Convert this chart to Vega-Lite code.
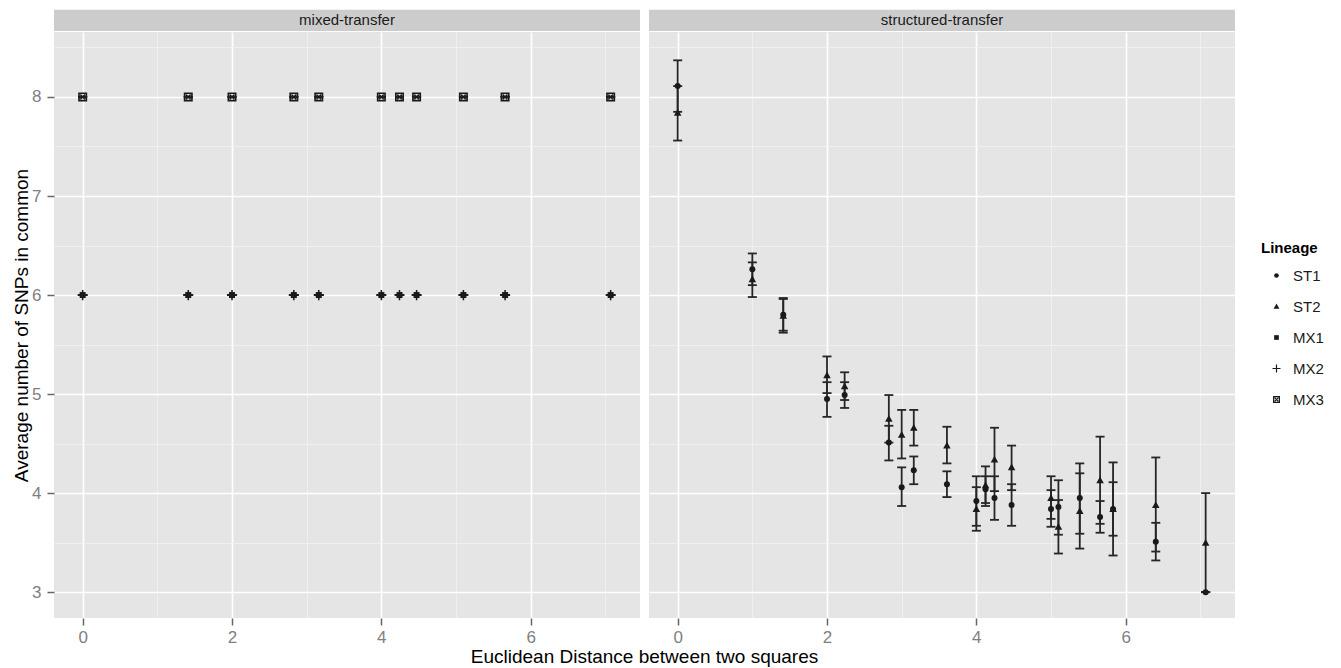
{
  "$schema": "https://vega.github.io/schema/vega-lite/v6.json",
  "autosize": {"type": "none"},
  "padding": {"left": 54, "top": 32, "right": 1287, "bottom": 636},
  "background": "white",
  "datasets": {
    "mixed": [
      {"distance": 0, "lineage": "MX1", "mean": 6, "lower": 6, "upper": 6},
      {"distance": 0, "lineage": "MX2", "mean": 6, "lower": 6, "upper": 6},
      {"distance": 0, "lineage": "MX3", "mean": 8, "lower": 8, "upper": 8},
      {"distance": 1.414, "lineage": "MX1", "mean": 6, "lower": 6, "upper": 6},
      {"distance": 1.414, "lineage": "MX2", "mean": 6, "lower": 6, "upper": 6},
      {"distance": 1.414, "lineage": "MX3", "mean": 8, "lower": 8, "upper": 8},
      {"distance": 2, "lineage": "MX1", "mean": 6, "lower": 6, "upper": 6},
      {"distance": 2, "lineage": "MX2", "mean": 6, "lower": 6, "upper": 6},
      {"distance": 2, "lineage": "MX3", "mean": 8, "lower": 8, "upper": 8},
      {"distance": 2.828, "lineage": "MX1", "mean": 6, "lower": 6, "upper": 6},
      {"distance": 2.828, "lineage": "MX2", "mean": 6, "lower": 6, "upper": 6},
      {"distance": 2.828, "lineage": "MX3", "mean": 8, "lower": 8, "upper": 8},
      {"distance": 3.162, "lineage": "MX1", "mean": 6, "lower": 6, "upper": 6},
      {"distance": 3.162, "lineage": "MX2", "mean": 6, "lower": 6, "upper": 6},
      {"distance": 3.162, "lineage": "MX3", "mean": 8, "lower": 8, "upper": 8},
      {"distance": 4, "lineage": "MX1", "mean": 6, "lower": 6, "upper": 6},
      {"distance": 4, "lineage": "MX2", "mean": 6, "lower": 6, "upper": 6},
      {"distance": 4, "lineage": "MX3", "mean": 8, "lower": 8, "upper": 8},
      {"distance": 4.243, "lineage": "MX1", "mean": 6, "lower": 6, "upper": 6},
      {"distance": 4.243, "lineage": "MX2", "mean": 6, "lower": 6, "upper": 6},
      {"distance": 4.243, "lineage": "MX3", "mean": 8, "lower": 8, "upper": 8},
      {"distance": 4.472, "lineage": "MX1", "mean": 6, "lower": 6, "upper": 6},
      {"distance": 4.472, "lineage": "MX2", "mean": 6, "lower": 6, "upper": 6},
      {"distance": 4.472, "lineage": "MX3", "mean": 8, "lower": 8, "upper": 8},
      {"distance": 5.099, "lineage": "MX1", "mean": 6, "lower": 6, "upper": 6},
      {"distance": 5.099, "lineage": "MX2", "mean": 6, "lower": 6, "upper": 6},
      {"distance": 5.099, "lineage": "MX3", "mean": 8, "lower": 8, "upper": 8},
      {"distance": 5.657, "lineage": "MX1", "mean": 6, "lower": 6, "upper": 6},
      {"distance": 5.657, "lineage": "MX2", "mean": 6, "lower": 6, "upper": 6},
      {"distance": 5.657, "lineage": "MX3", "mean": 8, "lower": 8, "upper": 8},
      {"distance": 7.071, "lineage": "MX1", "mean": 6, "lower": 6, "upper": 6},
      {"distance": 7.071, "lineage": "MX2", "mean": 6, "lower": 6, "upper": 6},
      {"distance": 7.071, "lineage": "MX3", "mean": 8, "lower": 8, "upper": 8}
    ],
    "structured": [
      {"distance": 0, "lineage": "ST1", "mean": 8.11, "lower": 7.85, "upper": 8.37},
      {"distance": 0, "lineage": "ST2", "mean": 7.84, "lower": 7.56, "upper": 8.11},
      {"distance": 1, "lineage": "ST1", "mean": 6.26, "lower": 6.10, "upper": 6.42},
      {"distance": 1, "lineage": "ST2", "mean": 6.16, "lower": 5.98, "upper": 6.33},
      {"distance": 1.414, "lineage": "ST1", "mean": 5.80, "lower": 5.64, "upper": 5.96},
      {"distance": 1.414, "lineage": "ST2", "mean": 5.79, "lower": 5.62, "upper": 5.97},
      {"distance": 2, "lineage": "ST1", "mean": 4.95, "lower": 4.77, "upper": 5.12},
      {"distance": 2, "lineage": "ST2", "mean": 5.19, "lower": 5.01, "upper": 5.38},
      {"distance": 2.236, "lineage": "ST1", "mean": 4.99, "lower": 4.86, "upper": 5.12},
      {"distance": 2.236, "lineage": "ST2", "mean": 5.08, "lower": 4.94, "upper": 5.22},
      {"distance": 2.828, "lineage": "ST1", "mean": 4.51, "lower": 4.33, "upper": 4.68},
      {"distance": 2.828, "lineage": "ST2", "mean": 4.75, "lower": 4.51, "upper": 4.99},
      {"distance": 3, "lineage": "ST1", "mean": 4.06, "lower": 3.87, "upper": 4.26},
      {"distance": 3, "lineage": "ST2", "mean": 4.59, "lower": 4.35, "upper": 4.84},
      {"distance": 3.162, "lineage": "ST1", "mean": 4.23, "lower": 4.09, "upper": 4.37},
      {"distance": 3.162, "lineage": "ST2", "mean": 4.66, "lower": 4.48, "upper": 4.84},
      {"distance": 3.606, "lineage": "ST1", "mean": 4.09, "lower": 3.96, "upper": 4.22},
      {"distance": 3.606, "lineage": "ST2", "mean": 4.48, "lower": 4.30, "upper": 4.67},
      {"distance": 4, "lineage": "ST1", "mean": 3.92, "lower": 3.67, "upper": 4.17},
      {"distance": 4, "lineage": "ST2", "mean": 3.84, "lower": 3.62, "upper": 4.06},
      {"distance": 4.123, "lineage": "ST1", "mean": 4.04, "lower": 3.90, "upper": 4.17},
      {"distance": 4.123, "lineage": "ST2", "mean": 4.08, "lower": 3.87, "upper": 4.27},
      {"distance": 4.243, "lineage": "ST1", "mean": 3.95, "lower": 3.73, "upper": 4.17},
      {"distance": 4.243, "lineage": "ST2", "mean": 4.34, "lower": 4.02, "upper": 4.66},
      {"distance": 4.472, "lineage": "ST1", "mean": 3.88, "lower": 3.67, "upper": 4.09},
      {"distance": 4.472, "lineage": "ST2", "mean": 4.26, "lower": 4.03, "upper": 4.48},
      {"distance": 5, "lineage": "ST1", "mean": 3.84, "lower": 3.66, "upper": 4.03},
      {"distance": 5, "lineage": "ST2", "mean": 3.95, "lower": 3.74, "upper": 4.17},
      {"distance": 5.099, "lineage": "ST1", "mean": 3.86, "lower": 3.58, "upper": 4.13},
      {"distance": 5.099, "lineage": "ST2", "mean": 3.66, "lower": 3.39, "upper": 3.93},
      {"distance": 5.385, "lineage": "ST1", "mean": 3.95, "lower": 3.59, "upper": 4.30},
      {"distance": 5.385, "lineage": "ST2", "mean": 3.82, "lower": 3.44, "upper": 4.20},
      {"distance": 5.657, "lineage": "ST1", "mean": 3.76, "lower": 3.60, "upper": 3.92},
      {"distance": 5.657, "lineage": "ST2", "mean": 4.13, "lower": 3.69, "upper": 4.57},
      {"distance": 5.831, "lineage": "ST1", "mean": 3.84, "lower": 3.57, "upper": 4.11},
      {"distance": 5.831, "lineage": "ST2", "mean": 3.84, "lower": 3.37, "upper": 4.31},
      {"distance": 6.403, "lineage": "ST1", "mean": 3.51, "lower": 3.32, "upper": 3.70},
      {"distance": 6.403, "lineage": "ST2", "mean": 3.88, "lower": 3.41, "upper": 4.36},
      {"distance": 7.071, "lineage": "ST1", "mean": 3.00, "lower": 3.00, "upper": 3.00},
      {"distance": 7.071, "lineage": "ST2", "mean": 3.50, "lower": 3.00, "upper": 4.00}
    ]
  },
  "spacing": 9,
  "bounds": "flush",
  "resolve": {
    "scale": {"x": "independent", "y": "independent", "shape": "shared"},
    "legend": {"shape": "shared"}
  },
  "hconcat": [
    {
      "width": 586,
      "height": 586,
      "layer": [
        {
          "data": {"name": "mixed"},
          "mark": {"type": "rule", "color": "#262626", "strokeWidth": 1.8},
          "encoding": {
            "x": {"field": "distance", "type": "quantitative", "scale": {"domain": [-0.384, 7.464], "nice": false, "zero": false},
              "axis": {
                "values": [0, 1, 2, 3, 4, 5, 6, 7],
                "labelExpr": "datum.value % 2 === 0 ? format(datum.value, 'd') : ''",
                "gridColor": {"condition": {"test": "datum.value % 2 !== 0", "value": "#f2f2f2"}, "value": "#ffffff"},
                "gridWidth": {"condition": {"test": "datum.value % 2 !== 0", "value": 0.8}, "value": 1.6},
                "tickOpacity": {"condition": {"test": "datum.value % 2 !== 0", "value": 0}, "value": 1},
                "title": "Euclidean Distance between two squares",
                "titleX": 590,
                "titleY": 44,
                "titleAlign": "center",
                "titleBaseline": "alphabetic"
              }
            },
            "y": {"field": "lower", "type": "quantitative", "scale": {"domain": [2.739, 8.656], "nice": false, "zero": false},
              "axis": {
                "values": [3, 3.5, 4, 4.5, 5, 5.5, 6, 6.5, 7, 7.5, 8, 8.5],
                "labelExpr": "datum.value % 1 === 0 ? format(datum.value, 'd') : ''",
                "labelPadding": 6,
                "gridColor": {"condition": {"test": "datum.value % 1 !== 0", "value": "#f2f2f2"}, "value": "#ffffff"},
                "gridWidth": {"condition": {"test": "datum.value % 1 !== 0", "value": 0.8}, "value": 1.6},
                "tickOpacity": {"condition": {"test": "datum.value % 1 !== 0", "value": 0}, "value": 1},
                "title": "Average number of SNPs in common",
                "titleX": -33,
                "titleY": 293,
                "titleAngle": -90,
                "titleAlign": "center",
                "titleBaseline": "middle"
              }
            },
            "y2": {"field": "upper"}
          }
        },
        {
          "data": {"name": "mixed"},
          "mark": {"type": "tick", "orient": "horizontal", "size": 9, "thickness": 1.8, "color": "#262626", "opacity": 1},
          "encoding": {
            "x": {"field": "distance", "type": "quantitative"},
            "y": {"field": "lower", "type": "quantitative"}
          }
        },
        {
          "data": {"name": "mixed"},
          "mark": {"type": "tick", "orient": "horizontal", "size": 9, "thickness": 1.8, "color": "#262626", "opacity": 1},
          "encoding": {
            "x": {"field": "distance", "type": "quantitative"},
            "y": {"field": "upper", "type": "quantitative"}
          }
        },
        {
          "data": {"name": "mixed"},
          "mark": {"type": "point", "filled": true, "size": 36, "color": "#1a1a1a", "opacity": 1},
          "encoding": {
            "x": {"field": "distance", "type": "quantitative"},
            "y": {"field": "mean", "type": "quantitative"},
            "shape": {"field": "lineage", "type": "nominal", "title": "Lineage",
              "scale": {"domain": ["ST1", "ST2", "MX1", "MX2", "MX3"],
                "range": [
                  "circle",
                  "M0,-1.25L1.25,1L-1.25,1Z",
                  "square",
                  "M-1.7,-0.25H-0.25V-1.7H0.25V-0.25H1.7V0.25H0.25V1.7H-0.25V0.25H-1.7Z",
                  "M-1.5,-1.5H1.5V1.5H-1.5ZM-0.95,-0.95V0.95H0.95V-0.95ZM-0.95,-0.6L-0.6,-0.95L0.95,0.6L0.6,0.95ZM-0.6,0.95L-0.95,0.6L0.6,-0.95L0.95,-0.6Z"
                ]}}
          }
        },
        {
          "data": {"values": [{"label": "mixed-transfer"}]},
          "mark": {"type": "rect", "fill": "#cccccc"},
          "encoding": {
            "x": {"datum": -0.384},
            "x2": {"datum": 7.464},
            "y": {"datum": 8.88},
            "y2": {"datum": 8.666}
          }
        },
        {
          "data": {"values": [{"label": "mixed-transfer"}]},
          "mark": {"type": "text", "font": "Liberation Sans", "fontSize": 15, "color": "#1a1a1a", "baseline": "middle", "align": "center"},
          "encoding": {
            "x": {"datum": 3.54},
            "y": {"datum": 8.773},
            "text": {"field": "label"}
          }
        }
      ]
    },
    {
      "width": 586,
      "height": 586,
      "layer": [
        {
          "data": {"name": "structured"},
          "mark": {"type": "rule", "color": "#262626", "strokeWidth": 1.8},
          "encoding": {
            "x": {"field": "distance", "type": "quantitative", "scale": {"domain": [-0.384, 7.464], "nice": false, "zero": false},
              "axis": {
                "values": [0, 1, 2, 3, 4, 5, 6, 7],
                "labelExpr": "datum.value % 2 === 0 ? format(datum.value, 'd') : ''",
                "gridColor": {"condition": {"test": "datum.value % 2 !== 0", "value": "#f2f2f2"}, "value": "#ffffff"},
                "gridWidth": {"condition": {"test": "datum.value % 2 !== 0", "value": 0.8}, "value": 1.6},
                "tickOpacity": {"condition": {"test": "datum.value % 2 !== 0", "value": 0}, "value": 1},
                "title": null
              }
            },
            "y": {"field": "lower", "type": "quantitative", "scale": {"domain": [2.739, 8.656], "nice": false, "zero": false},
              "axis": {
                "values": [3, 3.5, 4, 4.5, 5, 5.5, 6, 6.5, 7, 7.5, 8, 8.5],
                "labels": false,
                "ticks": false,
                "gridColor": {"condition": {"test": "datum.value % 1 !== 0", "value": "#f2f2f2"}, "value": "#ffffff"},
                "gridWidth": {"condition": {"test": "datum.value % 1 !== 0", "value": 0.8}, "value": 1.6},
                "title": null
              }
            },
            "y2": {"field": "upper"}
          }
        },
        {
          "data": {"name": "structured"},
          "mark": {"type": "tick", "orient": "horizontal", "size": 9, "thickness": 1.8, "color": "#262626", "opacity": 1},
          "encoding": {
            "x": {"field": "distance", "type": "quantitative"},
            "y": {"field": "lower", "type": "quantitative"}
          }
        },
        {
          "data": {"name": "structured"},
          "mark": {"type": "tick", "orient": "horizontal", "size": 9, "thickness": 1.8, "color": "#262626", "opacity": 1},
          "encoding": {
            "x": {"field": "distance", "type": "quantitative"},
            "y": {"field": "upper", "type": "quantitative"}
          }
        },
        {
          "data": {"name": "structured"},
          "mark": {"type": "point", "filled": true, "size": 36, "color": "#1a1a1a", "opacity": 1},
          "encoding": {
            "x": {"field": "distance", "type": "quantitative"},
            "y": {"field": "mean", "type": "quantitative"},
            "shape": {"field": "lineage", "type": "nominal", "title": "Lineage",
              "scale": {"domain": ["ST1", "ST2", "MX1", "MX2", "MX3"],
                "range": [
                  "circle",
                  "M0,-1.25L1.25,1L-1.25,1Z",
                  "square",
                  "M-1.7,-0.25H-0.25V-1.7H0.25V-0.25H1.7V0.25H0.25V1.7H-0.25V0.25H-1.7Z",
                  "M-1.5,-1.5H1.5V1.5H-1.5ZM-0.95,-0.95V0.95H0.95V-0.95ZM-0.95,-0.6L-0.6,-0.95L0.95,0.6L0.6,0.95ZM-0.6,0.95L-0.95,0.6L0.6,-0.95L0.95,-0.6Z"
                ]}}
          }
        },
        {
          "data": {"values": [{"label": "structured-transfer"}]},
          "mark": {"type": "rect", "fill": "#cccccc"},
          "encoding": {
            "x": {"datum": -0.384},
            "x2": {"datum": 7.464},
            "y": {"datum": 8.88},
            "y2": {"datum": 8.666}
          }
        },
        {
          "data": {"values": [{"label": "structured-transfer"}]},
          "mark": {"type": "text", "font": "Liberation Sans", "fontSize": 15, "color": "#1a1a1a", "baseline": "middle", "align": "center"},
          "encoding": {
            "x": {"datum": 3.54},
            "y": {"datum": 8.773},
            "text": {"field": "label"}
          }
        }
      ]
    }
  ],
  "config": {
    "view": {"fill": "#e5e5e5", "stroke": null},
    "axis": {
      "domain": false,
      "labelFont": "Liberation Sans",
      "labelFontSize": 17,
      "labelColor": "#7f7f7f",
      "tickColor": "#666666",
      "tickSize": 7,
      "tickWidth": 1.5,
      "labelPadding": 4,
      "titleFont": "Liberation Sans",
      "titleFontSize": 19,
      "titleFontWeight": "normal",
      "titleColor": "#000000"
    },
    "legend": {
      "orient": "none",
      "legendX": 1207,
      "legendY": 209,
      "titleFont": "Liberation Sans",
      "titleFontSize": 15,
      "titleFontWeight": "bold",
      "titleColor": "#000000",
      "titlePadding": 12,
      "labelFont": "Liberation Sans",
      "labelFontSize": 15,
      "labelColor": "#1a1a1a",
      "symbolSize": 22,
      "symbolOffset": 8,
      "labelOffset": 9,
      "rowPadding": 15
    }
  }
}
